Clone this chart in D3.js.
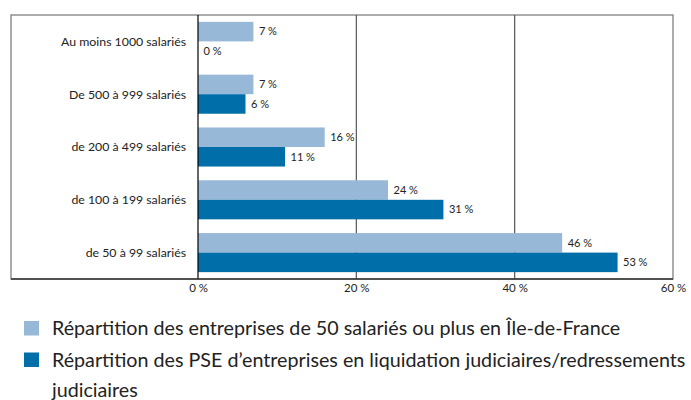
<!DOCTYPE html>
<html>
<head>
<meta charset="utf-8">
<script src="https://cdn.jsdelivr.net/npm/d3@7"></script>
<style>
  body { margin: 0; background: #fff; }
  svg { display: block; font-family: Lato, "Noto Sans", sans-serif; }
</style>
</head>
<body>
<div class="chart"></div>
<script>
const categories = ["Au moins 1000 salariés", "De 500 à 999 salariés", "de 200 à 499 salariés", "de 100 à 199 salariés", "de 50 à 99 salariés"]
const idf_values = [7, 7, 16, 24, 46]
const pse_values = [0, 6, 11, 31, 53]
const x_ticks = [0, 20, 40, 60]
const series_names = [
    ["Répartition des entreprises de 50 salariés ou plus en Île-de-France"],
    ["Répartition des PSE d’entreprises en liquidation judiciaires/redressements", "judiciaires"]
]
const colors = ["#98b8d8", "#006ea8"]

const chart_param = {
    width: 691,
    height: 400,
    frame: { left: 11, top: 15, right: 673, bottom: 279 },
    plot_left: 198
}

const pct = v => v + "\u202f%"

const x = d3.scaleLinear()
            .domain([0, 60])
            .range([chart_param.plot_left, chart_param.frame.right])
const y = d3.scaleBand()
            .domain(categories)
            .range([chart_param.frame.top, chart_param.frame.bottom])
            .paddingInner(0.26)
            .paddingOuter(0.13)
const sub = d3.scaleBand()
            .domain([0, 1])
            .range([0, y.bandwidth()])

const svg = d3.select(".chart").append("svg")
    .attr("width", chart_param.width)
    .attr("height", chart_param.height)

const f = chart_param.frame

// outer frame
svg.append("rect")
    .attr("x", f.left).attr("y", f.top)
    .attr("width", f.right - f.left).attr("height", f.bottom - f.top)
    .attr("fill", "none").attr("stroke", "#808080").attr("stroke-width", 1.3)

// gridlines at 20 and 40
svg.selectAll(".grid")
    .data([20, 40]).enter()
    .append("line")
    .attr("x1", d => x(d)).attr("x2", d => x(d))
    .attr("y1", f.top).attr("y2", f.bottom)
    .attr("stroke", "#555").attr("stroke-width", 1.2)

// bars
const rows = categories.map((c, i) => ({ cat: c, vals: [idf_values[i], pse_values[i]] }))
const group = svg.selectAll(".group")
    .data(rows).enter()
    .append("g")
    .attr("transform", d => `translate(0,${y(d.cat)})`)

group.selectAll("rect")
    .data(d => d.vals).enter()
    .append("rect")
    .attr("x", x(0))
    .attr("y", (d, i) => sub(i))
    .attr("width", d => x(d) - x(0))
    .attr("height", sub.bandwidth())
    .attr("fill", (d, i) => colors[i])

group.selectAll(".val")
    .data(d => d.vals).enter()
    .append("text")
    .attr("x", d => x(d) + 5.5)
    .attr("y", (d, i) => sub(i) + sub.bandwidth() / 2)
    .attr("dy", "0.35em")
    .attr("font-size", 11)
    .attr("fill", "#222")
    .text(d => pct(d))

// category labels
svg.selectAll(".cat")
    .data(categories).enter()
    .append("text")
    .attr("x", 186)
    .attr("y", d => y(d) + y.bandwidth() / 2)
    .attr("dy", "0.35em")
    .attr("text-anchor", "end")
    .attr("font-size", 12.3)
    .attr("fill", "#222")
    .text(d => d)

// zero line + bottom axis line
svg.append("line")
    .attr("x1", x(0)).attr("x2", x(0))
    .attr("y1", f.top).attr("y2", f.bottom)
    .attr("stroke", "#000").attr("stroke-width", 1.2)
svg.append("line")
    .attr("x1", f.left).attr("x2", f.right)
    .attr("y1", f.bottom).attr("y2", f.bottom)
    .attr("stroke", "#333").attr("stroke-width", 1.4)

// x axis tick labels
const axis = svg.append("g")
    .attr("transform", `translate(0,${f.bottom})`)
    .call(d3.axisBottom(x).tickValues(x_ticks).tickSize(0).tickPadding(5).tickFormat(pct))
axis.select(".domain").remove()
axis.selectAll("text")
    .attr("font-family", "Lato, 'Noto Sans', sans-serif")
    .attr("font-size", 11.5)
    .attr("fill", "#222")

// legend
const legend = svg.selectAll(".legend")
    .data(series_names).enter()
    .append("g")
    .attr("transform", (d, i) => `translate(24,${321 + i * 31.5})`)
legend.append("rect")
    .attr("width", 15).attr("height", 14.5)
    .attr("fill", (d, i) => colors[i])
legend.each(function (lines) {
    const t = d3.select(this).append("text")
        .attr("x", 28).attr("y", 14)
        .attr("font-size", 19.7)
        .attr("fill", "#222")
    lines.forEach((l, j) => {
        t.append("tspan").attr("x", 28).attr("dy", j ? 30 : 0).text(l)
    })
})
</script>
</body>
</html>
